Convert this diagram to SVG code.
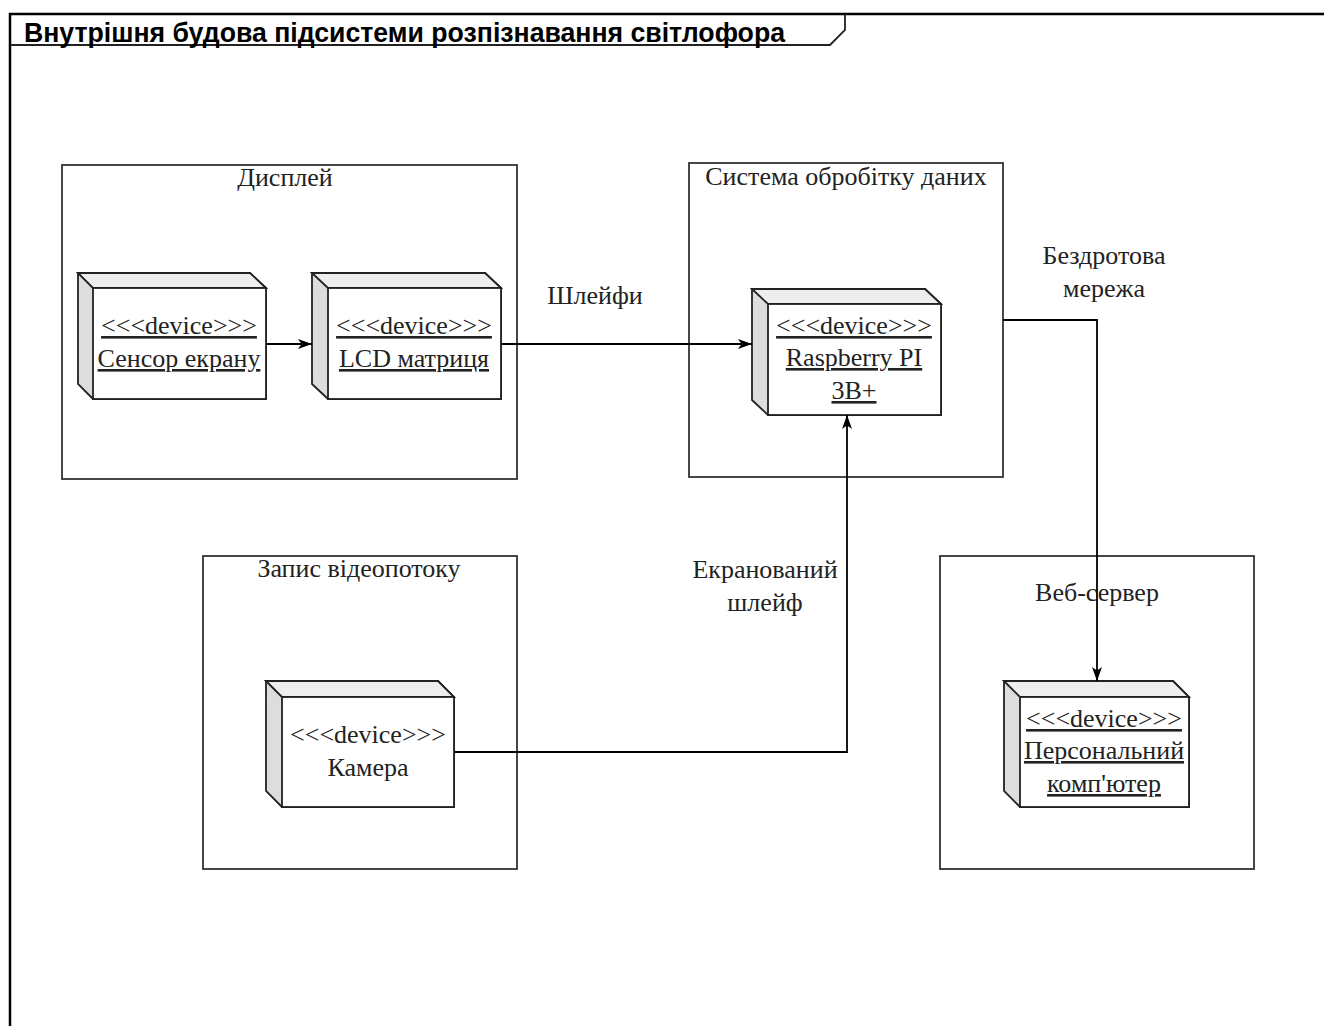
<svg xmlns="http://www.w3.org/2000/svg" width="1324" height="1026" viewBox="0 0 1324 1026">
<style>
.frame{fill:none;stroke:#000;stroke-width:2.5}
.cont{fill:#fff;stroke:#333;stroke-width:1.8}
.side{fill:#ddd;stroke:#222;stroke-width:1.8}
.face{fill:#fff;stroke:#222;stroke-width:1.8}
.t{font-family:"Liberation Serif","DejaVu Serif",serif;font-size:26px;fill:#222;text-anchor:middle}
.u{text-decoration:underline}
.edge{fill:none;stroke:#000;stroke-width:1.8}
.title{font-family:"Liberation Sans",Arial,sans-serif;font-size:27px;font-weight:bold;fill:#000}
</style>
<defs>
<marker id="arr" viewBox="0 0 14 10" refX="14" refY="5" markerWidth="14" markerHeight="10" markerUnits="userSpaceOnUse" orient="auto">
<path d="M0,0 L14,5 L0,10 L3.5,5 Z" fill="#000"/>
</marker>
</defs>
<rect width="1324" height="1026" fill="#fff"/>
<g id="frame">
<rect class="frame" x="10" y="14" width="1330" height="1030"/>
<path d="M10,45 L830,45 L845,30 L845,14" fill="none" stroke="#222" stroke-width="1.8"/>
<text class="title" x="24" y="42" textLength="761" lengthAdjust="spacingAndGlyphs">Внутрішня будова підсистеми розпізнавання світлофора</text>
</g>
<g id="display">
<rect class="cont" x="62" y="165" width="455" height="314"/>
<text class="t" x="285" y="186">Дисплей</text>
</g>
<g id="processing">
<rect class="cont" x="689" y="163" width="314" height="314"/>
<text class="t" x="846" y="185">Система обробітку даних</text>
</g>
<g id="video">
<rect class="cont" x="203" y="556" width="314" height="313"/>
<text class="t" x="359" y="577">Запис відеопотоку</text>
</g>
<g id="webserver">
<rect class="cont" x="940" y="556" width="314" height="313"/>
<text class="t" x="1097" y="601">Веб-сервер</text>
</g>
<g id="sensor">
<path class="side" d="M78,273 L250,273 L266,288 L266,399 L93,399 L78,384 Z"/>
<path class="side" d="M78,273 L93,288 L266,288 L250,273 Z" style="fill:#eee"/>
<rect class="face" x="93" y="288" width="173" height="111"/>
<text class="t u" x="179" y="334">&lt;&lt;&lt;device&gt;&gt;&gt;</text>
<text class="t u" x="179" y="367">Сенсор екрану</text>
</g>
<g id="lcd">
<path class="side" d="M312,273 L485,273 L501,288 L501,399 L328,399 L312,384 Z"/>
<path class="side" d="M312,273 L328,288 L501,288 L485,273 Z" style="fill:#eee"/>
<rect class="face" x="328" y="288" width="173" height="111"/>
<text class="t u" x="414" y="334">&lt;&lt;&lt;device&gt;&gt;&gt;</text>
<text class="t u" x="414" y="367">LCD матриця</text>
</g>
<g id="raspberry">
<path class="side" d="M752,289 L925,289 L941,304 L941,415 L768,415 L752,400 Z"/>
<path class="side" d="M752,289 L768,304 L941,304 L925,289 Z" style="fill:#eee"/>
<rect class="face" x="768" y="304" width="173" height="111"/>
<text class="t u" x="854" y="334">&lt;&lt;&lt;device&gt;&gt;&gt;</text>
<text class="t u" x="854" y="366">Raspberry PI</text>
<text class="t u" x="854" y="399">3B+</text>
</g>
<g id="camera">
<path class="side" d="M266,681 L438,681 L454,697 L454,807 L282,807 L266,791 Z"/>
<path class="side" d="M266,681 L282,697 L454,697 L438,681 Z" style="fill:#eee"/>
<rect class="face" x="282" y="697" width="172" height="110"/>
<text class="t" x="368" y="743">&lt;&lt;&lt;device&gt;&gt;&gt;</text>
<text class="t" x="368" y="776">Камера</text>
</g>
<g id="pc">
<path class="side" d="M1004,681 L1173,681 L1189,697 L1189,807 L1020,807 L1004,791 Z"/>
<path class="side" d="M1004,681 L1020,697 L1189,697 L1173,681 Z" style="fill:#eee"/>
<rect class="face" x="1020" y="697" width="169" height="110"/>
<text class="t u" x="1104" y="727">&lt;&lt;&lt;device&gt;&gt;&gt;</text>
<text class="t u" x="1104" y="759">Персональний</text>
<text class="t u" x="1104" y="792">комп'ютер</text>
</g>
<g id="connectors">
<path class="edge" d="M266,344 L312,344" marker-end="url(#arr)"/>
<path class="edge" d="M501,344 L752,344" marker-end="url(#arr)"/>
<path class="edge" d="M454,752 L847,752 L847,415" marker-end="url(#arr)"/>
<path class="edge" d="M1003,320 L1097,320 L1097,681" marker-end="url(#arr)"/>
<text class="t" x="595" y="304">Шлейфи</text>
<text class="t" x="765" y="578">Екранований</text>
<text class="t" x="765" y="611">шлейф</text>
<text class="t" x="1104" y="264">Бездротова</text>
<text class="t" x="1104" y="297">мережа</text>
</g>
</svg>
